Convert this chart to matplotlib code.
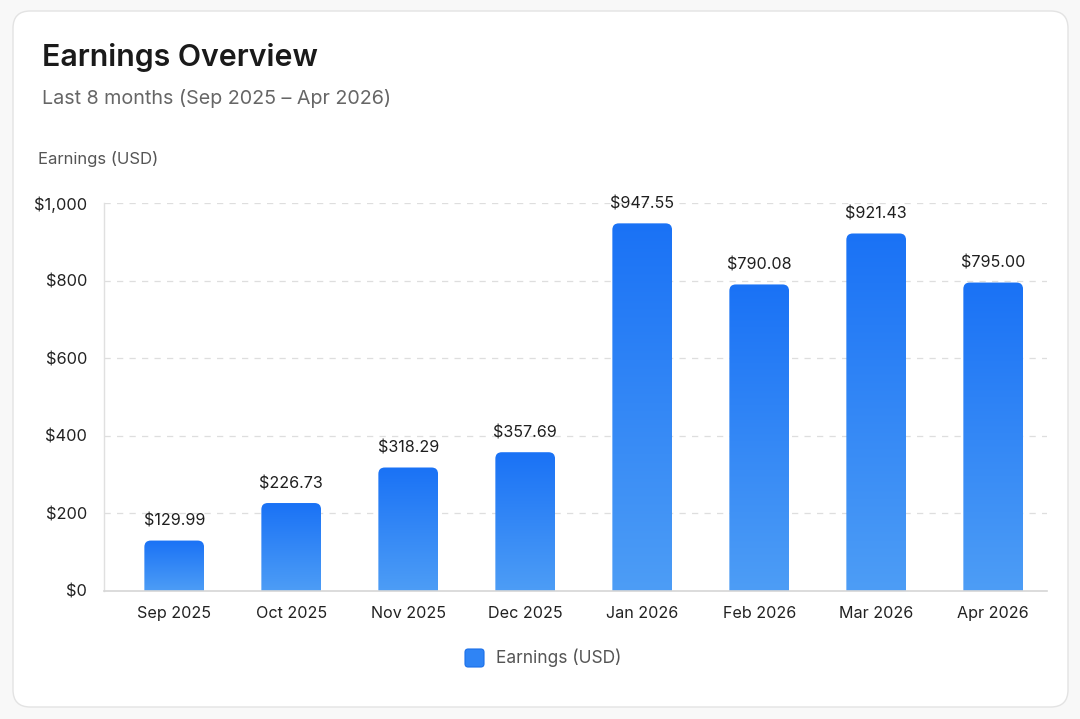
import numpy as np
import matplotlib.pyplot as plt
from matplotlib.patches import FancyBboxPatch
from matplotlib.colors import LinearSegmentedColormap

plt.rcParams['font.family'] = ['Inter', 'DejaVu Sans']

# Data
months = ['Sep 2025', 'Oct 2025', 'Nov 2025', 'Dec 2025',
          'Jan 2026', 'Feb 2026', 'Mar 2026', 'Apr 2026']
earnings = [129.99, 226.73, 318.29, 357.69, 947.55, 790.08, 921.43, 795.00]
yticks = [0, 200, 400, 600, 800, 1000]
ytick_labels = ['$0', '$200', '$400', '$600', '$800', '$1,000']

top_color = '#1a72f5'
bottom_color = '#4d9df6'
grad = LinearSegmentedColormap.from_list('bar', [bottom_color, top_color])

fig = plt.figure(figsize=(10.8, 7.19), dpi=100)
fig.patch.set_facecolor('#f8f8f8')

# card background
card = FancyBboxPatch((13 / 1080, 12 / 719), 1055 / 1080, 696 / 719,
                      boxstyle='round,pad=0,rounding_size=0.016',
                      mutation_aspect=1080 / 719,
                      transform=fig.transFigure, facecolor='white',
                      edgecolor='#e3e3e3', linewidth=1.0, zorder=-5)
fig.patches.append(card)

ax = fig.add_axes([104 / 1080, 1 - 591 / 719, 943 / 1080, 388 / 719])
ax.set_facecolor('none')
ax.set_zorder(2)

x = np.arange(len(months))
bars = ax.bar(x, earnings, width=0.51, color='none', edgecolor='none')

# rounded-top gradient bars
px_x = 943 / 8.06
px_y = 388 / 1000
gradient = np.linspace(0, 1, 256).reshape(-1, 1)
for b, v in zip(bars, earnings):
    bx, bw, bh = b.get_x(), b.get_width(), b.get_height()
    patch = FancyBboxPatch((bx, -30), bw, bh + 30,
                           boxstyle='round,pad=0,rounding_size=0.055',
                           mutation_aspect=px_x / px_y,
                           facecolor='none', edgecolor='none', zorder=2)
    ax.add_patch(patch)
    im = ax.imshow(gradient, cmap=grad, aspect='auto', origin='lower',
                   extent=(bx, bx + bw, 0, bh), zorder=2)
    im.set_clip_path(patch)
    ax.text(bx + bw / 2, bh + 30, f'${v:,.2f}', ha='center', va='bottom',
            fontsize=11.6, color='#1f1f1f')

ax.set_xlim(-0.6, 7.46)
ax.set_ylim(0, 1000)

ax.set_yticks(yticks)
ax.set_yticklabels(ytick_labels, fontsize=11.8, color='#222222')
ax.set_xticks(x)
ax.set_xticklabels(months, fontsize=11.6, color='#222222')
ax.tick_params(axis='both', length=0)
ax.tick_params(axis='y', pad=12)
ax.tick_params(axis='x', pad=11)

ax.grid(axis='y', color='#dedede', linestyle=(0, (5, 5)), linewidth=0.9)
ax.set_axisbelow(True)
for s in ['top', 'right']:
    ax.spines[s].set_visible(False)
ax.spines['left'].set_color('#e0e0e0')
ax.spines['bottom'].set_color('#d6d6d6')
ax.spines['left'].set_linewidth(1.0)
ax.spines['bottom'].set_linewidth(1.2)

# titles
fig.text(42 / 1080, 1 - 58 / 719, 'Earnings Overview', fontsize=21.8,
         fontweight='semibold', color='#1a1a1a', va='center', ha='left')
fig.text(42 / 1080, 1 - 98 / 719, 'Last 8 months (Sep 2025 \u2013 Apr 2026)',
         fontsize=14.2, color='#666666', va='center', ha='left')
fig.text(38 / 1080, 1 - 159 / 719, 'Earnings (USD)', fontsize=12,
         color='#555555', va='center', ha='left')

# legend
leg_patch = FancyBboxPatch((465 / 1080, 1 - 667 / 719), 19 / 1080, 18 / 719,
                           boxstyle='round,pad=0,rounding_size=0.003',
                           mutation_aspect=1080 / 719,
                           transform=fig.transFigure, facecolor='#2f84f5',
                           edgecolor='#1a6fe8', linewidth=0.8)
fig.patches.append(leg_patch)
fig.text(496 / 1080, 1 - 658 / 719, 'Earnings (USD)', fontsize=12.5,
         color='#555555', va='center', ha='left')

fig.savefig('out.png', dpi=100, facecolor=fig.get_facecolor())
